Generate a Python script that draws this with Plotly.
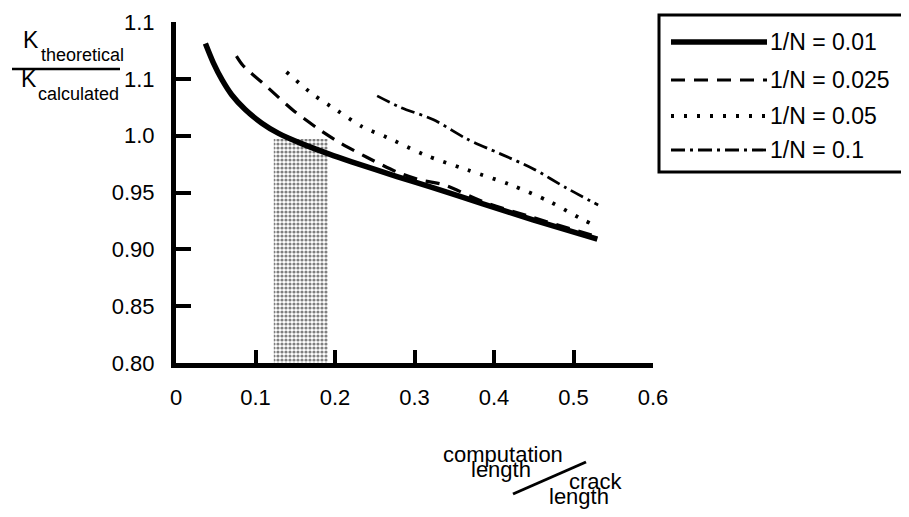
import plotly.graph_objects as go

# ---- data ----
SOLID_X = [0.037, 0.047, 0.058, 0.070, 0.087, 0.108, 0.129, 0.158, 0.192, 0.221, 0.278, 0.320, 0.386, 0.449, 0.530]
SOLID_Y = [1.081, 1.064, 1.049, 1.036, 1.023, 1.011, 1.002, 0.993, 0.984, 0.977, 0.964, 0.955, 0.940, 0.926, 0.909]

DASH_X = [0.076, 0.084, 0.116, 0.148, 0.179, 0.208, 0.240, 0.278, 0.307, 0.336, 0.386, 0.449, 0.530]
DASH_Y = [1.070, 1.062, 1.042, 1.022, 1.006, 0.993, 0.981, 0.968, 0.961, 0.957, 0.942, 0.928, 0.911]

DOT_X = [0.139, 0.171, 0.203, 0.234, 0.267, 0.313, 0.366, 0.420, 0.470, 0.512, 0.531]
DOT_Y = [1.056, 1.037, 1.022, 1.008, 0.998, 0.983, 0.970, 0.957, 0.942, 0.926, 0.920]

DD_X = [0.253, 0.282, 0.324, 0.366, 0.408, 0.449, 0.491, 0.531]
DD_Y = [1.035, 1.025, 1.014, 0.997, 0.984, 0.971, 0.954, 0.939]

SHADE_X = [0.123, 0.191]
SHADE_Y = [0.80, 0.997]

SERIES_NAMES = ["1/N = 0.01", "1/N = 0.025", "1/N = 0.05", "1/N = 0.1"]

X_TICKS = [0, 0.1, 0.2, 0.3, 0.4, 0.5, 0.6]
X_TICKTEXT = ["0", "0.1", "0.2", "0.3", "0.4", "0.5", "0.6"]
Y_TICKS = [0.80, 0.85, 0.90, 0.95, 1.00, 1.05, 1.10]
Y_TICKTEXT = ["0.80", "0.85", "0.90", "0.95", "1.0", "1.1", "1.1"]

FONT = "Liberation Sans, Arial, sans-serif"

STYLES = [
    dict(color="black", width=5.5, dash="solid"),
    dict(color="black", width=3.2, dash="14px,9px"),
    dict(color="black", width=3.8, dash="3px,10px"),
    dict(color="black", width=2.8, dash="14px,5px,3px,5px"),
]

fig = go.Figure()

# shaded band
fig.add_trace(go.Scatter(
    x=[SHADE_X[0], SHADE_X[1], SHADE_X[1], SHADE_X[0], SHADE_X[0]],
    y=[SHADE_Y[0], SHADE_Y[0], SHADE_Y[1], SHADE_Y[1], SHADE_Y[0]],
    mode="lines", fill="toself", line=dict(width=0),
    fillcolor="rgba(0,0,0,0)",
    fillpattern=dict(shape=".", fgcolor="black", bgcolor="white", size=4, solidity=0.5),
    hoverinfo="skip", showlegend=False))

series = [(SOLID_X, SOLID_Y), (DASH_X, DASH_Y), (DOT_X, DOT_Y), (DD_X, DD_Y)]
for (xs, ys), name, st in zip(series, SERIES_NAMES, STYLES):
    fig.add_trace(go.Scatter(x=xs, y=ys, mode="lines", name=name,
                             line=dict(shape="spline", smoothing=0.8, **st),
                             showlegend=False))

# plot area geometry (screen pixels); page body has an 8px margin
OFF = 8
L, R, T, B = 176, 653, 22, 363
W, H = R - L, B - T

def px(x):
    return (x - L) / W

def py(y):
    return (B - y) / H

shapes = []
annotations = []

# custom legend box
shapes.append(dict(type="rect", xref="paper", yref="paper",
                   x0=px(659), x1=px(960), y0=py(172), y1=py(15),
                   line=dict(color="black", width=3), fillcolor="white", layer="above"))
rows = [42, 80, 116, 150]
for row, name, st in zip(rows, SERIES_NAMES, STYLES):
    shapes.append(dict(type="line", xref="paper", yref="paper",
                       x0=px(671), x1=px(767), y0=py(row), y1=py(row),
                       line=dict(color="black", width=st["width"], dash=st["dash"]),
                       layer="above"))
    annotations.append(dict(text=name, xref="paper", yref="paper",
                            x=px(768), y=py(row), xanchor="left", yanchor="middle",
                            showarrow=False, font=dict(family=FONT, size=23, color="black")))

# y-axis label (fraction)
annotations += [
    dict(text="K", x=px(21), y=py(40), xanchor="left", yanchor="middle",
         font=dict(family=FONT, size=23, color="black")),
    dict(text="theoretical", x=px(39), y=py(55), xanchor="left", yanchor="middle",
         font=dict(family=FONT, size=18, color="black")),
    dict(text="K", x=px(19), y=py(79), xanchor="left", yanchor="middle",
         font=dict(family=FONT, size=23, color="black")),
    dict(text="calculated", x=px(36), y=py(94), xanchor="left", yanchor="middle",
         font=dict(family=FONT, size=18, color="black")),
]
shapes.append(dict(type="line", xref="paper", yref="paper",
                   x0=px(12), x1=px(120), y0=py(69), y1=py(69),
                   line=dict(color="black", width=2.5)))

# x-axis label
annotations += [
    dict(text="computation", x=px(503), y=py(454), xanchor="center", yanchor="middle",
         font=dict(family=FONT, size=22, color="black")),
    dict(text="length", x=px(501), y=py(469), xanchor="center", yanchor="middle",
         font=dict(family=FONT, size=22, color="black")),
    dict(text="crack", x=px(596), y=py(481), xanchor="center", yanchor="middle",
         font=dict(family=FONT, size=22, color="black")),
    dict(text="length", x=px(579), y=py(496), xanchor="center", yanchor="middle",
         font=dict(family=FONT, size=22, color="black")),
]
shapes.append(dict(type="line", xref="paper", yref="paper",
                   x0=px(513), x1=px(586), y0=py(494), y1=py(462),
                   line=dict(color="black", width=3)))

for a in annotations:
    a.setdefault("xref", "paper")
    a.setdefault("yref", "paper")
    a.setdefault("showarrow", False)

fig.update_layout(
    width=909, height=517,
    margin=dict(l=L - OFF, r=909 - (R - OFF), t=T - OFF, b=517 - (B - OFF), autoexpand=False),
    plot_bgcolor="white", paper_bgcolor="white",
    shapes=shapes, annotations=annotations,
    showlegend=False,
    font=dict(family=FONT, color="black"),
)
fig.update_xaxes(range=[0, 0.6], tickvals=X_TICKS, ticktext=X_TICKTEXT, automargin=False,
                 showgrid=False, zeroline=False, showline=True, linecolor="black",
                 linewidth=5, ticks="inside", ticklen=13, tickwidth=4, tickcolor="black",
                 tickfont=dict(family=FONT, size=22, color="black"), ticklabelstandoff=11)
fig.update_yaxes(range=[0.80, 1.10], tickvals=Y_TICKS, ticktext=Y_TICKTEXT, automargin=False,
                 showgrid=False, zeroline=False, showline=True, linecolor="black",
                 linewidth=5, ticks="inside", ticklen=15, tickwidth=4, tickcolor="black",
                 tickfont=dict(family=FONT, size=22, color="black"), ticklabelstandoff=12)

fig.write_html("out.html")
